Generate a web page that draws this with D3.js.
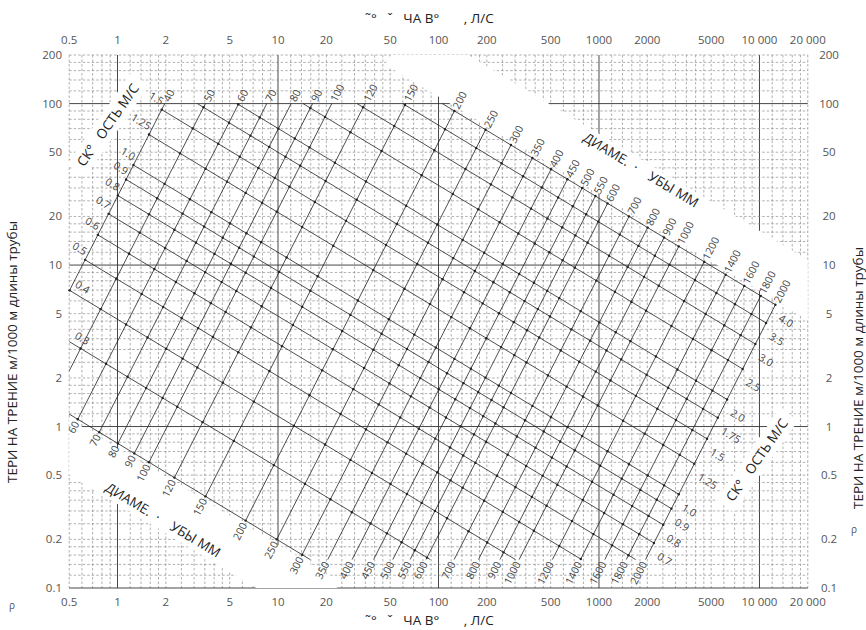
<!DOCTYPE html>
<html>
<head>
<meta charset="utf-8">
<script src="https://cdn.jsdelivr.net/npm/d3@7"></script>
<style>
  body { margin: 0; background: #fff; }
  text { font-family: "Open Sans", "Noto Sans", sans-serif; }
  .tick { font-family: "Liberation Sans", sans-serif; font-size: 11.5px; fill: #555; }
  .lab { font-family: "Liberation Sans", sans-serif; font-size: 10.5px; fill: #444; }
  .ttl { font-size: 13.5px; fill: #222; }
</style>
</head>
<body>
<script>
// axis ticks
var qTicks = [0.5, 1, 2, 5, 10, 20, 50, 100, 200, 500, 1000, 2000, 5000, 10000, 20000];
var qTickLabels = ["0.5", "1", "2", "5", "10", "20", "50", "100", "200", "500", "1000", "2000", "5000", "10 000", "20 000"];
var iTicks = [0.1, 0.2, 0.5, 1, 2, 5, 10, 20, 50, 100, 200];
var iTickLabels = ["0.1", "0.2", "0.5", "1", "2", "5", "10", "20", "50", "100", "200"];
var gridSubs = [1, 1.2, 1.4, 1.6, 1.8, 2, 2.5, 3, 3.5, 4, 4.5, 5, 6, 7, 8, 9];

// pipe diameters, mm
var diameters = [40, 50, 60, 70, 80, 90, 100, 120, 150, 200, 250, 300, 350, 400, 450, 500,
                 550, 600, 700, 800, 900, 1000, 1200, 1400, 1600, 1800, 2000];
// flow velocities, m/s
var velocities = [0.2, 0.3, 0.4, 0.5, 0.6, 0.7, 0.8, 0.9, 1.0, 1.25, 1.5, 1.75, 2.0, 2.5, 3.0, 3.5, 4.0];
var leftVelLabels = [0.3, 0.4, 0.5, 0.6, 0.7, 0.8, 0.9, 1.0, 1.25, 1.5];
var rightVelLabels = [0.7, 0.8, 0.9, 1.0, 1.25, 1.5, 1.75, 2.0, 2.5, 3.0, 3.5, 4.0];
var bottomDiaLabels = [60, 70, 80, 90, 100, 120, 150, 200, 250, 300, 350, 400, 450, 500, 550,
                       600, 700, 800, 900, 1000, 1200, 1400, 1600, 1800, 2000];

// friction law: i (m/km) = K * v^m / d^n
var K = 0.8746, mExp = 1.95, nExp = 1.2;
var iMin = 0.15, iMax = 100;

var width = 866, height = 630;
var svg = d3.select("body").append("svg")
    .attr("width", width)
    .attr("height", height);

var x = d3.scaleLog().domain([0.5, 20000]).range([69.2, 807.8]);
var y = d3.scaleLog().domain([0.1, 200]).range([588, 55]);

function lossOf(v, D) { return K * Math.pow(v, mExp) / Math.pow(D / 1000, nExp); }
function flowOf(v, D) { var d = D / 1000; return v * Math.PI * d * d / 4 * 1000; }
function vAtQ(Q, D) { var d = D / 1000; return Q / 1000 / (Math.PI * d * d / 4); }
function vAtI(i, D) { return Math.pow(i * Math.pow(D / 1000, nExp) / K, 1 / mExp); }
function dAtQ(Q, v) { return Math.sqrt(4 * Q / 1000 / (Math.PI * v)) * 1000; }
function dAtI(i, v) { return Math.pow(K * Math.pow(v, mExp) / i, 1 / nExp) * 1000; }
function pt(v, D) { return [x(flowOf(v, D)), y(lossOf(v, D))]; }

// background log grid
var grid = svg.append("g");
var xs = [], ys = [];
[-1, 0, 1, 2, 3, 4].forEach(function (e) {
  gridSubs.forEach(function (s) {
    var v = s * Math.pow(10, e);
    if (v >= 0.5 && v <= 20000) xs.push({ v: v, major: s == 1 });
    if (v >= 0.1 && v <= 200) ys.push({ v: v, major: s == 1 });
  });
});
grid.selectAll(".gx").data(xs).enter().append("line")
    .attr("x1", d => x(d.v)).attr("x2", d => x(d.v))
    .attr("y1", y(200)).attr("y2", y(0.1))
    .attr("stroke", d => d.major ? "#333" : "#858585")
    .attr("stroke-width", d => d.major ? 0.9 : 0.65)
    .attr("stroke-dasharray", d => d.major ? null : "2.5,2");
grid.selectAll(".gy").data(ys).enter().append("line")
    .attr("y1", d => y(d.v)).attr("y2", d => y(d.v))
    .attr("x1", x(0.5)).attr("x2", x(20000))
    .attr("stroke", d => d.major ? "#333" : "#858585")
    .attr("stroke-width", d => d.major ? 0.9 : 0.65)
    .attr("stroke-dasharray", d => d.major ? null : "2.5,2");

// white bands where the diameter scale names are printed
function band(p0, p1, off0, off1) {
  var dx = p1[0] - p0[0], dy = p1[1] - p0[1], L = Math.hypot(dx, dy);
  var nx = dy / L, ny = -dx / L;
  return [[p0[0] + nx * off0, p0[1] + ny * off0], [p1[0] + nx * off0, p1[1] + ny * off0],
          [p1[0] + nx * off1, p1[1] + ny * off1], [p0[0] + nx * off1, p0[1] + ny * off1]];
}
svg.append("clipPath").attr("id", "plot").append("rect")
    .attr("x", x(0.5)).attr("y", y(200))
    .attr("width", x(20000) - x(0.5)).attr("height", y(0.1) - y(200));
var bands = svg.append("g").attr("clip-path", "url(#plot)");
var bandList = [
  band(pt(4, 120), pt(4, 3000), 4, 55),
  band(pt(0.2, 30), pt(0.2, 400), -4, -52)
];
bands.selectAll("polygon").data(bandList).enter().append("polygon")
    .attr("points", d => d.map(p => p.join(",")).join(" "))
    .attr("fill", "#fff");

// nomogram lines
var nomo = svg.append("g");
var dLines = diameters.map(function (D) {
  var lo = Math.max(0.2, vAtQ(0.5, D), vAtI(iMin, D));
  var hi = Math.min(4.0, vAtI(iMax, D));
  return { D: D, lo: lo, hi: hi, a: pt(lo, D), b: pt(hi, D) };
});
var vLines = velocities.map(function (v) {
  var lo = Math.max(40, dAtQ(0.5, v), dAtI(iMax, v));
  var hi = Math.min(2000, dAtI(iMin, v));
  return { v: v, lo: lo, hi: hi, edge: dAtQ(0.5, v) > 39, a: pt(v, lo), b: pt(v, hi) };
});
nomo.selectAll(".dl").data(dLines).enter().append("line")
    .attr("x1", d => d.a[0]).attr("y1", d => d.a[1])
    .attr("x2", d => d.b[0]).attr("y2", d => d.b[1])
    .attr("stroke", "#222").attr("stroke-width", 0.8);
nomo.selectAll(".vl").data(vLines).enter().append("line")
    .attr("x1", d => d.a[0]).attr("y1", d => d.a[1])
    .attr("x2", d => d.b[0]).attr("y2", d => d.b[1])
    .attr("stroke", "#222").attr("stroke-width", 0.8);

// dots at crossings
var dots = [];
dLines.forEach(function (dl) {
  vLines.forEach(function (vl) {
    if (vl.v >= dl.lo - 1e-9 && vl.v <= dl.hi + 1e-9 && dl.D >= vl.lo - 1e-6 && dl.D <= vl.hi + 1e-6)
      dots.push(pt(vl.v, dl.D));
  });
});
nomo.selectAll("circle").data(dots).enter().append("circle")
    .attr("cx", d => d[0]).attr("cy", d => d[1]).attr("r", 1.2).attr("fill", "#222");

function angle(a, b) { return Math.atan2(b[1] - a[1], b[0] - a[0]) * 180 / Math.PI; }
function fmtV(v) { return v == 1 ? "1.0" : (v >= 2 && v % 1 == 0 ? v.toFixed(1) : String(v)); }

// white patches behind the velocity scale names
var names = svg.append("g").attr("class", "ttl");
[[108, 125, -55], [757, 460, -55]].forEach(function (p) {
  var g = names.append("g").attr("transform", "translate(" + p[0] + "," + p[1] + ") rotate(" + p[2] + ")");
  g.append("rect").attr("x", -56).attr("y", -11).attr("width", 112).attr("height", 22).attr("fill", "#fff");
  g.append("text").attr("text-anchor", "middle").attr("dy", "0.35em")
      .style("white-space", "pre").text("СК°   ОСТЬ М/С");
});
[[641, 170, 31], [163, 520, 31]].forEach(function (p) {
  names.append("text").attr("transform", "translate(" + p[0] + "," + p[1] + ") rotate(" + p[2] + ")")
      .attr("text-anchor", "middle").attr("dy", "0.35em")
      .style("white-space", "pre").text("ДИАМЕ.  ·    УБЫ ММ");
});

// diameter labels (upper ends and lower ends)
var labs = svg.append("g").attr("class", "lab");
labs.selectAll(".dt").data(dLines).enter().append("text")
    .attr("transform", d => "translate(" + d.b[0] + "," + d.b[1] + ") rotate(" + angle(d.a, d.b) + ")")
    .attr("x", 3).attr("dy", "0.35em").text(d => d.D);
labs.selectAll(".db").data(dLines.filter(d => bottomDiaLabels.indexOf(d.D) >= 0)).enter().append("text")
    .attr("transform", d => "translate(" + d.a[0] + "," + d.a[1] + ") rotate(" + angle(d.a, d.b) + ")")
    .attr("x", -3).attr("dy", "0.35em").attr("text-anchor", "end").text(d => d.D);
// velocity labels
labs.selectAll(".vtl").data(vLines.filter(d => leftVelLabels.indexOf(d.v) >= 0)).enter().append("text")
    .attr("transform", d => "translate(" + d.a[0] + "," + d.a[1] + ") rotate(" + angle(d.a, d.b) + ")")
    .attr("x", d => d.edge ? 2 : -3).attr("dy", d => d.edge ? "-0.55em" : "-0.3em")
    .attr("text-anchor", d => d.edge ? "start" : "end").text(d => fmtV(d.v));
labs.selectAll(".vtr").data(vLines.filter(d => rightVelLabels.indexOf(d.v) >= 0)).enter().append("text")
    .attr("transform", d => "translate(" + d.b[0] + "," + d.b[1] + ") rotate(" + angle(d.a, d.b) + ")")
    .attr("x", 10).attr("dy", "1.15em").text(d => fmtV(d.v));

// tick labels
var tk = svg.append("g").attr("class", "tick");
tk.selectAll(".qt").data(qTicks).enter().append("text")
    .attr("x", d => x(d)).attr("y", 44).attr("text-anchor", "middle").text((d, k) => qTickLabels[k]);
tk.selectAll(".qb").data(qTicks).enter().append("text")
    .attr("x", d => x(d)).attr("y", 606).attr("text-anchor", "middle").text((d, k) => qTickLabels[k]);
tk.selectAll(".il").data(iTicks).enter().append("text")
    .attr("x", 62).attr("y", d => y(d)).attr("dy", "0.35em").attr("text-anchor", "end").text((d, k) => iTickLabels[k]);
tk.selectAll(".ir").data(iTicks).enter().append("text")
    .attr("x", 829).attr("y", d => y(d)).attr("dy", "0.35em").attr("text-anchor", "middle").text((d, k) => iTickLabels[k]);

// axis titles
var t = svg.append("g").attr("class", "ttl");
[23, 625].forEach(function (yy) {
  t.append("text").attr("x", 365).attr("y", yy).style("white-space", "pre")
      .text("˜°   ˇ   ЧА В°       , Л/С");
});
[[12, 352], [858, 378]].forEach(function (p) {
  t.append("text").attr("transform", "translate(" + p[0] + "," + p[1] + ") rotate(-90)")
      .attr("text-anchor", "middle").attr("dy", "0.35em")
      .text("ТЕРИ НА ТРЕНИЕ м/1000 м длины трубы");
});
t.append("text").attr("x", 12).attr("y", 609).attr("text-anchor", "middle").style("font-size", "10px").style("fill", "#555").text("ρ");
t.append("text").attr("x", 854).attr("y", 533).attr("text-anchor", "middle").style("font-size", "10px").style("fill", "#555").text("ρ");
</script>
</body>
</html>
